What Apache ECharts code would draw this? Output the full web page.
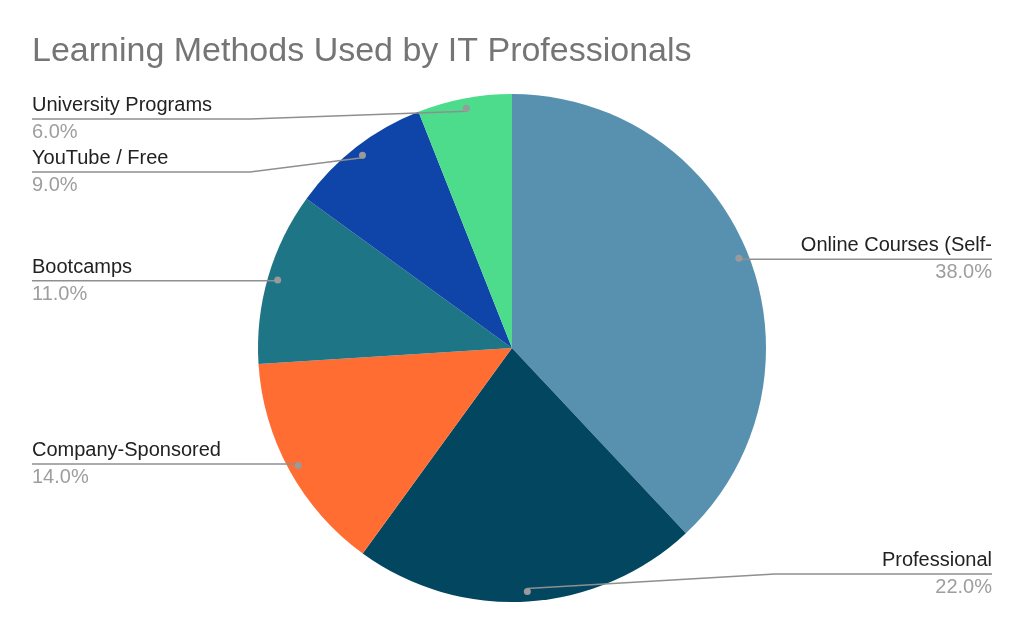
<!DOCTYPE html>
<html>
<head>
<meta charset="utf-8">
<script src="https://cdn.jsdelivr.net/npm/echarts@6/dist/echarts.min.js"></script>
<style>
html,body{margin:0;padding:0;background:#fff;}
#chart{width:1024px;height:633px;}
</style>
</head>
<body>
<div id="chart"></div>
<script>
const titleText = 'Learning Methods Used by IT Professionals';
const categories = ['Online Courses (Self-', 'Professional', 'Company-Sponsored', 'Bootcamps', 'YouTube / Free', 'University Programs'];
const shares = [38, 22, 14, 11, 9, 6];
const colors = ['#5891b0', '#02465f', '#ff6d33', '#1e7585', '#0f44a8', '#4cdc8c'];

const W = 1024, H = 633;
const TOP = 92, BOTTOM = 32;
const CX = 512, CY = 348, R = 254, RDOT = 241;
const LABEL_GAP = 53, LABEL_MIN_Y = 119, LABEL_MAX_Y = 574;
const centerPct = [(CX / W * 100) + '%', ((CY - TOP) / (H - TOP - BOTTOM) * 100) + '%'];

// label anchor heights follow the dot of each slice, spread apart when they would overlap
const total = shares.reduce((a, b) => a + b, 0);
const labelY = [];
(function () {
  let acc = 0;
  const items = shares.map((v, i) => {
    const mid = (acc + v / 2) / total * Math.PI * 2; acc += v;
    return { i: i, y: CY - RDOT * Math.cos(mid), left: Math.sin(mid) < 0 };
  });
  [true, false].forEach(side => {
    const list = items.filter(it => it.left === side).sort((a, b) => a.y - b.y);
    let prev = -Infinity;
    list.forEach(it => { it.y = Math.max(it.y, LABEL_MIN_Y, prev + LABEL_GAP); prev = it.y; });
    let next = Infinity;
    for (let k = list.length - 1; k >= 0; k--) { list[k].y = Math.min(list[k].y, LABEL_MAX_Y, next - LABEL_GAP); next = list[k].y; }
  });
  items.forEach(it => { labelY[it.i] = it.y; });
})();

const chart = echarts.init(document.getElementById('chart'));

const pieData = categories.map((c, i) => ({ name: c, value: shares[i], itemStyle: { color: colors[i] } }));
const plainData = categories.map((c, i) => ({ name: c, value: shares[i] }));

const common = { type: 'pie', center: centerPct, top: TOP, bottom: BOTTOM, left: 0, right: 0, startAngle: 90, clockwise: true, animation: false };
const FONT = 'Liberation Sans, Arial, sans-serif';

chart.setOption({
  title: {
    text: titleText, left: 27, top: 30,
    textStyle: { fontFamily: FONT, fontSize: 34, fontWeight: 'normal', color: '#757575' }
  },
  series: [
    Object.assign({}, common, {
      name: 'slices', radius: [0, R], data: pieData, z: 1,
      label: { show: false }, labelLine: { show: false }, silent: true,
      itemStyle: { borderWidth: 0 }
    }),
    Object.assign({}, common, {
      name: 'labels', radius: [0, RDOT], data: plainData, silent: true, z: 3,
      itemStyle: { color: 'rgba(0,0,0,0)' },
      label: {
        show: true, position: 'outer', alignTo: 'edge', edgeDistance: 32, minMargin: 0,
        formatter: function (p) { return '{n|' + p.name + '}\n{p|' + p.value.toFixed(1) + '%}'; },
        lineHeight: 27,
        rich: {
          n: { fontFamily: FONT, fontSize: 20, color: '#222222', lineHeight: 27 },
          p: { fontFamily: FONT, fontSize: 20, color: '#9e9e9e', lineHeight: 27 }
        }
      },
      labelLine: { show: true, showAbove: true, length: 0, length2: 10, lineStyle: { color: '#8f8f8f', width: 1.5 } },
      labelLayout: function (params) {
        const rect = params.labelRect;
        const isLeft = rect.x + rect.width / 2 < W / 2;
        const pts = params.labelLinePoints;
        if (!pts) return {};
        const y = labelY[params.dataIndex];
        const p0 = pts[0];
        const bendX = isLeft ? 250 : 775;
        const endX = isLeft ? rect.x : rect.x + rect.width;
        return {
          x: isLeft ? rect.x : rect.x + rect.width,
          y: y, align: isLeft ? 'left' : 'right', verticalAlign: 'middle',
          labelLinePoints: [[p0[0], p0[1]], [bendX, y], [endX, y]]
        };
      }
    }),
    Object.assign({}, common, {
      name: 'dots', radius: [RDOT - 8, RDOT + 8], data: plainData, silent: true, z: 4,
      itemStyle: { color: 'rgba(0,0,0,0)' },
      label: {
        show: true, position: 'inside', formatter: '{d|}',
        rich: { d: { width: 7, height: 7, borderRadius: 4, backgroundColor: '#9a9a9a' } }
      },
      labelLine: { show: false }
    })
  ]
});
</script>
</body>
</html>
